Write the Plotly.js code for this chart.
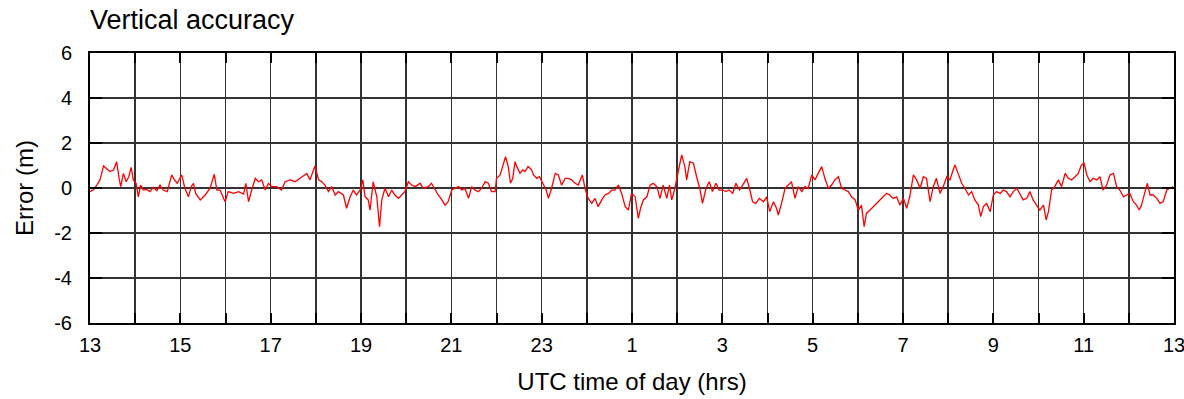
<!DOCTYPE html>
<html>
<head>
<meta charset="utf-8">
<script src="https://cdn.plot.ly/plotly-3.0.1.min.js"></script>
<style>html,body{margin:0;padding:0;background:#fff;}#chart{width:1184px;height:399px;}</style>
</head>
<body>
<div id="chart"></div>
<script>
// Hours since 00:00 of the first day (13 = 13:00, 37 = 13:00 next day)
const hours = [
13.00,13.07,13.15,13.22,13.30,13.37,13.44,13.52,13.59,13.65,13.68,13.74,13.80,13.86,13.91,13.96,14.02,14.07,14.12,14.18,
14.25,14.33,14.40,14.48,14.55,14.62,14.71,14.81,14.87,14.93,15.03,15.10,15.18,15.24,15.29,15.34,15.44,15.55,15.66,15.75,
15.81,15.88,15.99,16.06,16.18,16.29,16.40,16.45,16.51,16.58,16.66,16.73,16.80,16.88,16.95,17.02,17.13,17.24,17.32,17.43,
17.54,17.65,17.80,17.87,17.98,18.06,18.13,18.20,18.28,18.35,18.43,18.50,18.61,18.68,18.76,18.83,18.90,18.98,19.04,19.09,
19.16,19.20,19.27,19.35,19.41,19.46,19.53,19.61,19.68,19.75,19.83,19.90,19.97,20.05,20.12,20.20,20.31,20.38,20.49,20.56,
20.64,20.71,20.79,20.86,20.93,21.01,21.08,21.16,21.23,21.30,21.38,21.45,21.52,21.60,21.67,21.75,21.82,21.89,21.97,22.00,
22.08,22.15,22.20,22.26,22.31,22.36,22.41,22.45,22.52,22.58,22.63,22.70,22.78,22.82,22.89,22.95,23.02,23.10,23.15,23.22,
23.30,23.37,23.44,23.52,23.59,23.66,23.74,23.81,23.90,23.96,24.03,24.11,24.18,24.25,24.33,24.40,24.48,24.55,24.62,24.70,
24.77,24.85,24.92,24.99,25.07,25.14,25.19,25.25,25.33,25.40,25.47,25.55,25.62,25.69,25.77,25.83,25.88,25.95,26.03,26.10,
26.17,26.21,26.28,26.36,26.43,26.50,26.56,26.64,26.71,26.78,26.86,26.93,27.01,27.08,27.15,27.23,27.30,27.38,27.45,27.54,
27.60,27.67,27.74,27.82,27.91,27.98,28.05,28.13,28.20,28.24,28.31,28.39,28.46,28.53,28.61,28.68,28.76,28.83,28.90,28.98,
29.05,29.12,29.20,29.27,29.35,29.42,29.49,29.57,29.64,29.72,29.79,29.86,29.94,30.01,30.08,30.14,30.19,30.27,30.34,30.42,
30.49,30.56,30.64,30.71,30.78,30.86,30.93,31.01,31.08,31.15,31.23,31.30,31.38,31.45,31.52,31.60,31.67,31.74,31.82,31.89,
31.97,32.04,32.11,32.15,32.22,32.30,32.37,32.45,32.52,32.59,32.67,32.72,32.78,32.85,32.93,33.00,33.07,33.15,33.22,33.29,
33.37,33.44,33.52,33.59,33.66,33.74,33.81,33.88,33.96,34.03,34.11,34.17,34.22,34.29,34.36,34.44,34.51,34.59,34.66,34.73,
34.81,34.88,34.95,35.01,35.07,35.14,35.21,35.29,35.36,35.43,35.51,35.58,35.66,35.73,35.80,35.88,35.95,36.02,36.10,36.17,
36.23,36.28,36.36,36.41,36.47,36.54,36.62,36.69,36.76,36.84,36.91,36.98
];
// Vertical error (m)
const errorM = [
-0.16,-0.09,0.13,0.36,0.98,0.87,0.73,0.80,1.17,0.36,0.06,0.65,0.28,0.50,0.92,0.36,0.21,-0.39,0.13,-0.09,
-0.06,-0.16,0.03,-0.12,0.13,-0.09,-0.16,0.58,0.36,0.21,0.58,-0.01,-0.39,0.06,0.21,-0.24,-0.53,-0.31,-0.01,0.61,
-0.09,-0.09,-0.61,-0.16,-0.24,-0.16,-0.27,0.21,-0.61,-0.09,0.43,0.28,0.36,-0.09,0.21,0.06,0.06,-0.09,0.28,0.36,
0.28,0.43,0.65,0.36,0.98,0.36,0.28,0.13,-0.16,0.06,-0.31,-0.16,-0.31,-0.90,-0.39,-0.09,-0.31,-0.09,0.36,-0.39,
-0.53,-0.98,0.28,-0.39,-1.72,-0.53,-0.01,-0.39,-0.09,-0.31,-0.46,-0.31,-0.16,0.28,0.13,0.06,0.21,-0.01,0.06,0.21,
-0.09,-0.31,-0.53,-0.76,-0.61,-0.09,-0.01,0.06,-0.09,-0.01,-0.46,0.06,-0.09,-0.16,-0.01,0.28,0.21,-0.16,-0.16,0.43,
0.58,1.10,1.39,0.95,0.21,0.43,1.17,0.95,0.65,0.80,0.73,0.95,0.80,0.58,0.43,0.50,0.21,-0.09,-0.46,-0.01,
0.65,0.58,0.13,0.43,0.43,0.36,0.21,0.13,0.58,-0.01,-0.46,-0.68,-0.46,-0.83,-0.53,-0.31,-0.24,-0.09,-0.09,0.13,
-0.24,-0.83,-0.98,-0.24,-0.39,-1.35,-0.90,-0.53,-0.39,0.13,0.21,0.06,-0.46,0.13,-0.46,0.13,-0.53,-0.01,0.80,1.47,
0.95,0.36,1.17,1.10,0.50,-0.01,-0.68,-0.01,0.28,-0.16,0.21,-0.09,-0.09,-0.16,-0.09,-0.24,0.21,-0.09,0.13,0.43,
-0.01,-0.61,-0.68,-0.46,-0.61,-0.39,-1.05,-0.61,-0.90,-1.20,-0.68,-0.01,0.13,0.28,-0.46,0.06,-0.16,0.06,-0.01,0.58,
0.36,0.65,0.95,0.43,-0.01,0.13,0.36,0.50,-0.01,-0.09,-0.16,-0.39,-0.53,-0.98,-0.76,-1.72,-1.13,-0.98,-0.83,-0.68,
-0.53,-0.39,-0.24,-0.31,-0.46,-0.39,-0.76,-0.46,-0.90,-0.39,0.58,0.36,-0.01,0.50,0.43,-0.61,0.06,0.43,-0.24,0.06,
0.50,0.36,0.80,1.02,0.65,0.21,-0.01,-0.31,-0.16,-0.53,-0.76,-1.27,-0.83,-0.68,-1.05,-0.31,-0.16,-0.24,-0.09,-0.16,
-0.39,-0.16,-0.01,-0.24,-0.53,-0.46,-0.16,-0.53,-0.76,-0.98,-0.76,-1.42,-1.05,-0.09,0.06,0.36,0.06,0.65,0.43,0.36,
0.50,0.65,1.02,1.10,0.58,0.28,0.43,0.36,0.50,-0.09,0.13,0.58,0.65,0.06,-0.09,-0.39,-0.31,-0.24,-0.61,-0.76,
-0.98,-0.76,-0.16,0.21,-0.31,-0.31,-0.46,-0.68,-0.61,-0.09,-0.01,0.06
];
// Axis ticks
const xTickVals = [13,14,15,16,17,18,19,20,21,22,23,24,25,26,27,28,29,30,31,32,33,34,35,36,37];
const xTickText = ['13','','15','','17','','19','','21','','23','','1','','3','','5','','7','','9','','11','','13'];
const yTickVals = [-6,-4,-2,0,2,4,6];
const yTickText = ['-6','-4','-2','0','2','4','6'];

const gridCol = '#333333';
const fontFam = '"Liberation Sans", Arial, Helvetica, sans-serif';

Plotly.newPlot('chart', [{
  x: hours, y: errorM, type: 'scatter', mode: 'lines',
  line: {color: '#ff0000', width: 1.3}, hoverinfo: 'skip'
}], {
  width: 1184, height: 399,
  margin: {l: 90, r: 10, t: 53, b: 76, pad: 0},
  paper_bgcolor: '#ffffff', plot_bgcolor: '#ffffff',
  font: {family: fontFam, color: '#000000', size: 20},
  showlegend: false,
  title: {text: 'Vertical accuracy', x: 0, xref: 'paper', xanchor: 'left', y: 0.975, yref: 'container', yanchor: 'top',
          font: {family: fontFam, size: 27, color: '#000000'}},
  xaxis: {
    range: [13, 37], tickmode: 'array', tickvals: xTickVals, ticktext: xTickText,
    showgrid: true, gridcolor: gridCol, gridwidth: 1.5, zeroline: false,
    showline: true, linecolor: '#000000', linewidth: 2, mirror: 'ticks',
    ticks: 'inside', ticklen: 10, tickwidth: 2, tickcolor: '#000000',
    ticklabelstandoff: 3, ticklabeloverflow: 'allow',
    tickfont: {size: 20, family: fontFam, color: '#000000'},
    title: {text: 'UTC time of day (hrs)', font: {size: 24, family: fontFam, color: '#000000'}, standoff: 18}
  },
  yaxis: {
    range: [-6, 6], tickmode: 'array', tickvals: yTickVals, ticktext: yTickText,
    showgrid: true, gridcolor: gridCol, gridwidth: 1.5, zeroline: false,
    showline: true, linecolor: '#000000', linewidth: 2, mirror: 'ticks',
    ticks: 'inside', ticklen: 12, tickwidth: 2, tickcolor: '#000000',
    ticklabelstandoff: 12, ticklabeloverflow: 'allow',
    tickfont: {size: 20, family: fontFam, color: '#000000'},
    title: {text: 'Error (m)', font: {size: 24, family: fontFam, color: '#000000'}, standoff: 14}
  }
}, {displayModeBar: false, staticPlot: true});
</script>
</body>
</html>
